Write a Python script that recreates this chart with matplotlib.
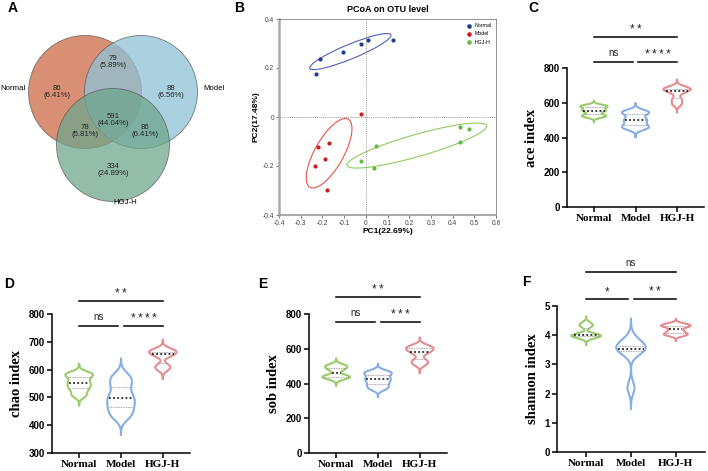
import numpy as np
import matplotlib
matplotlib.use("Agg")
import matplotlib.pyplot as plt
from matplotlib.patches import Circle, Ellipse

plt.rcParams["font.family"] = ["Liberation Sans", "DejaVu Sans"]

groups = ["Normal", "Model", "HGJ-H"]

# ---- A: Venn ----
venn_regions = ["N", "M", "H", "NM", "NH", "MH", "NMH"]
venn_counts = [86, 88, 334, 79, 78, 86, 591]

# ---- B: PCoA ----
pc1_label = "PC1(22.69%)"
pc2_label = "PC2(17.48%)"
normal_x = [-0.23, -0.21, -0.105, -0.02, 0.012, 0.125]
normal_y = [0.175, 0.237, 0.267, 0.297, 0.313, 0.313]
model_x = [-0.02, -0.17, -0.22, -0.19, -0.235, -0.18]
model_y = [0.013, -0.108, -0.123, -0.173, -0.200, -0.297]
hgj_x = [0.435, 0.475, 0.435, 0.045, -0.02, 0.04]
hgj_y = [-0.040, -0.050, -0.103, -0.120, -0.178, -0.208]

# ---- C-F: alpha diversity ----
ace = [[520, 528, 550, 560, 578, 582],
       [452, 465, 490, 510, 540, 550],
       [592, 620, 660, 675, 680, 688]]
chao = [[508, 530, 545, 560, 580, 585],
        [432, 460, 485, 509, 545, 575],
        [602, 614, 650, 660, 665, 672]]
sob = [[428, 438, 445, 478, 495, 505],
       [370, 392, 415, 432, 455, 468],
       [512, 532, 575, 592, 605, 615]]
shannon = [[3.92, 3.97, 4.00, 4.02, 4.30, 4.40],
           [2.20, 3.45, 3.52, 3.56, 3.65, 3.85],
           [4.00, 4.05, 4.15, 4.28, 4.33, 4.38]]

sig_ace = [("**", 0, 2, 978), ("ns", 0, 0.93, 835), ("****", 1.07, 2, 835)]
sig_chao = [("**", 0, 2, 847), ("ns", 0, 0.93, 757), ("****", 1.07, 2, 757)]
sig_sob = [("**", 0, 2, 898), ("ns", 0, 0.93, 754), ("***", 1.07, 2, 754)]
sig_shannon = [("ns", 0, 2, 6.16), ("*", 0, 0.93, 5.24), ("**", 1.07, 2, 5.24)]

vcolors = ["#9ACB6A", "#86AEE4", "#E58C91"]

W, H = 708, 471
fig = plt.figure(figsize=(W / 100, H / 100), dpi=100)


def rect(x0, y0, x1, y1):
    # pixel box (top-left origin) -> figure fraction
    return [x0 / W, 1 - y1 / H, (x1 - x0) / W, (y1 - y0) / H]


# ---------------- A ----------------
axA = fig.add_axes([0, 0, 230 / W, 1])
axA.set_xlim(0, 230)
axA.set_ylim(H, 0)
axA.axis("off")
r = 56.5
centers = {"N": (85, 92), "M": (141, 92), "H": (113, 145)}
ccols = {"N": "#CD6A45", "M": "#8FC2D8", "H": "#6FA68D"}
for k in ["N", "M", "H"]:
    axA.add_patch(Circle(centers[k], r, facecolor=ccols[k], alpha=0.75,
                         edgecolor="#555555", lw=0.6))
total = sum(venn_counts)
tpos = {"N": (57, 92), "M": (171, 92), "H": (113, 170), "NM": (113, 62),
        "NH": (85, 131), "MH": (145, 131), "NMH": (113, 120)}
for reg, c in zip(venn_regions, venn_counts):
    x, y = tpos[reg]
    axA.text(x, y, f"{c}\n({c / total * 100:.2f}%)", ha="center", va="center",
             fontsize=5.6, color="#222222", linespacing=1.0)
axA.text(13, 88, "Normal", ha="center", va="center", fontsize=5.6)
axA.text(214, 88, "Model", ha="center", va="center", fontsize=5.6)
axA.text(125, 203, "HGJ-H", ha="center", va="center", fontsize=5.6)

# ---------------- B ----------------
axB = fig.add_axes(rect(279, 19, 496, 215))
pcs = [(normal_x, normal_y, "#1F3E91", "#5060BE"),
       (model_x, model_y, "#CC1E1E", "#E8524C"),
       (hgj_x, hgj_y, "#65B943", "#8CCC5E")]
for (xs, ys, c, ec), g in zip(pcs, groups):
    xs, ys = np.array(xs), np.array(ys)
    axB.scatter(xs, ys, s=9, color=c, label=g, zorder=3, linewidths=0)
    cov = np.cov(xs, ys, bias=True)
    vals, vecs = np.linalg.eigh(cov)
    ang = np.degrees(np.arctan2(vecs[1, 1], vecs[0, 1]))
    k = 1.5
    axB.add_patch(Ellipse((xs.mean(), ys.mean()), 2 * k * np.sqrt(vals[1]),
                          2 * k * np.sqrt(vals[0]), angle=ang, fill=False,
                          edgecolor=ec, lw=0.8))
axB.axhline(0, color="#777777", ls=(0, (1.5, 1.5)), lw=0.5)
axB.axvline(0, color="#777777", ls=(0, (1.5, 1.5)), lw=0.5)
axB.set_xlim(-0.4, 0.6)
axB.set_ylim(-0.4, 0.4)
xt = np.round(np.arange(-0.4, 0.61, 0.1), 1)
axB.set_xticks(xt)
axB.set_xticklabels(["0" if v == 0 else f"{v:g}" for v in xt])
yt = [-0.4, -0.2, 0, 0.2, 0.4]
axB.set_yticks(yt)
axB.set_yticklabels(["0" if v == 0 else f"{v:g}" for v in yt])
axB.tick_params(labelsize=4.8, length=2, width=0.5, colors="#444444", pad=1.5)
for s in axB.spines.values():
    s.set_linewidth(0.5)
    s.set_color("#666666")
axB.spines["left"].set_linewidth(1.8)
axB.spines["left"].set_color("#AAAAAA")
axB.spines["bottom"].set_linewidth(1.2)
axB.spines["bottom"].set_color("#999999")
axB.set_xlabel(pc1_label, fontsize=6, fontweight="bold", labelpad=1)
axB.set_ylabel(pc2_label, fontsize=6, fontweight="bold", labelpad=2)
axB.set_title("PCoA on OTU level", fontsize=6.5, fontweight="bold", pad=5)
axB.legend(loc="upper right", fontsize=3.8, frameon=False, handletextpad=0.1,
           markerscale=1.1, borderaxespad=0.4, labelspacing=0.6)


# ---------------- violins ----------------
def violin(ax, vals, pos, color):
    v = np.asarray(vals, float)
    bw = 0.36 * v.std(ddof=1)
    y = np.linspace(v.min() - 3.4 * bw, v.max() + 3.4 * bw, 400)
    d = np.exp(-0.5 * ((y[:, None] - v[None, :]) / bw) ** 2).sum(1)
    w = d / d.max() * 0.33
    ax.fill_betweenx(y, pos - w, pos + w, color="white", zorder=2)
    ax.plot(np.r_[pos - w, (pos + w)[::-1], pos - w[0]],
            np.r_[y, y[::-1], y[0]], color=color, lw=1.5, zorder=3,
            solid_joinstyle="round")
    q1, med, q3 = np.percentile(v, [25, 50, 75])
    for q, c, ls, lw in [(q1, "#888888", (0, (1, 1)), 0.6),
                         (q3, "#888888", (0, (1, 1)), 0.6),
                         (med, "black", (0, (1.2, 1.5)), 1.1)]:
        wq = np.interp(q, y, w) * 0.9
        ax.plot([pos - wq, pos + wq], [q, q], color=c, ls=ls, lw=lw, zorder=4)


def panel(box, data, ylabel, ylim, yticks, sigs, letter, letter_xy):
    ax = fig.add_axes(rect(*box))
    for i, (vals, c) in enumerate(zip(data, vcolors)):
        violin(ax, vals, i, c)
    ax.set_xlim(-0.65, 2.65)
    ax.set_ylim(*ylim)
    ax.set_yticks(yticks)
    ax.set_xticks([0, 1, 2])
    ax.set_xticklabels(groups, family="Liberation Serif", fontweight="bold",
                       fontsize=8)
    ax.set_yticklabels([f"{t:g}" for t in yticks], fontweight="bold", fontsize=7)
    ax.tick_params(length=3.5, width=1.1, pad=1.5)
    for s in ["top", "right"]:
        ax.spines[s].set_visible(False)
    for s in ["left", "bottom"]:
        ax.spines[s].set_linewidth(1.1)
    ax.set_ylabel(ylabel, family="Liberation Serif", fontweight="bold",
                  fontsize=10.5, labelpad=4)
    span = ylim[1] - ylim[0]
    for txt, x0, x1, yy in sigs:
        ax.plot([x0, x1], [yy, yy], color="black", lw=1.1, clip_on=False)
        star = "*" in txt
        off = span * (0.005 if star else 0.03)
        label = "\u2009".join(txt) if star else txt
        ax.text((x0 + x1) / 2, yy + off, label, ha="center", va="bottom",
                fontsize=8.5 if star else 7, color="#222222", clip_on=False)
    fig.text(letter_xy[0] / W, 1 - letter_xy[1] / H, letter, fontsize=10,
             fontweight="bold", ha="left", va="center")
    return ax


panel((567, 68, 704, 207), ace, "ace index", (0, 800), [0, 200, 400, 600, 800],
      sig_ace, "C", (528, 8))
panel((52, 314, 190, 453), chao, "chao index", (300, 800),
      [300, 400, 500, 600, 700, 800], sig_chao, "D", (4, 284))
panel((309, 314, 447, 453), sob, "sob index", (0, 800), [0, 200, 400, 600, 800],
      sig_sob, "E", (258, 284))
panel((557, 306, 705, 452), shannon, "shannon index", (0, 5), [0, 1, 2, 3, 4, 5],
      sig_shannon, "F", (522, 282))

fig.text(8 / W, 1 - 8 / H, "A", fontsize=10, fontweight="bold", va="center")
fig.text(234 / W, 1 - 8 / H, "B", fontsize=10, fontweight="bold", va="center")

fig.savefig("out.png", dpi=100)
